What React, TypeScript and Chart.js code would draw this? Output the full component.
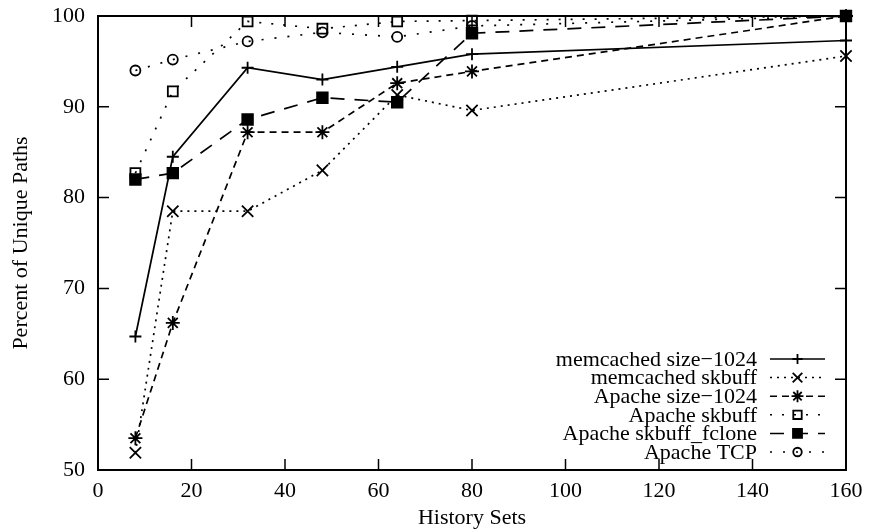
import React, { useEffect, useRef } from "react";
import { Chart, registerables } from "chart.js";

Chart.register(...registerables);

// ---- data ----
const historySets = [8, 16, 32, 48, 64, 80, 160];
const memcachedSize1024 = [64.7, 84.5, 94.3, 93.0, 94.4, 95.8, 97.3];
const memcachedSkbuff = [51.9, 78.5, 78.5, 83.0, 91.3, 89.6, 95.6];
const apacheSize1024 = [53.5, 66.2, 87.2, 87.2, 92.6, 93.9, 100];
const apacheSkbuff = [82.7, 91.7, 99.4, 98.6, 99.4, 99.5, 100];
const apacheSkbuffFclone = [82.0, 82.7, 88.6, 91.0, 90.5, 98.1, 100];
const apacheTcp = [94.0, 95.2, 97.2, 98.2, 97.7, 98.9, 100];

const seriesLabels = [
  "memcached size\u22121024",
  "memcached skbuff",
  "Apache size\u22121024",
  "Apache skbuff",
  "Apache skbuff_fclone",
  "Apache TCP",
];
const xTickValues = [0, 20, 40, 60, 80, 100, 120, 140, 160];
const yTickValues = [50, 60, 70, 80, 90, 100];
const xTitle = "History Sets";
const yTitle = "Percent of Unique Paths";

const FONT = "'Liberation Serif', 'Times New Roman', serif";

type Style = {
  dash: number[];
  point: string;
  radius: number;
  fill: string;
};

const styles: Style[] = [
  { dash: [], point: "cross", radius: 6, fill: "rgba(0,0,0,0)" },
  { dash: [2, 5], point: "crossRot", radius: 8, fill: "rgba(0,0,0,0)" },
  { dash: [7, 5], point: "star", radius: 7, fill: "rgba(0,0,0,0)" },
  { dash: [2, 10], point: "rect", radius: 7, fill: "rgba(0,0,0,0)" },
  { dash: [14, 10], point: "rect", radius: 7.5, fill: "#000" },
  { dash: [2, 11], point: "circle", radius: 5, fill: "rgba(0,0,0,0)" },
];

const seriesValues = [
  memcachedSize1024,
  memcachedSkbuff,
  apacheSize1024,
  apacheSkbuff,
  apacheSkbuffFclone,
  apacheTcp,
];

function drawMarker(ctx: CanvasRenderingContext2D, kind: string, x: number, y: number, r: number, fill: string) {
  ctx.save();
  ctx.setLineDash([]);
  ctx.beginPath();
  if (kind === "cross") {
    ctx.moveTo(x - r, y); ctx.lineTo(x + r, y);
    ctx.moveTo(x, y - r); ctx.lineTo(x, y + r);
    ctx.stroke();
  } else if (kind === "crossRot") {
    const o = r * Math.SQRT1_2;
    ctx.moveTo(x - o, y - o); ctx.lineTo(x + o, y + o);
    ctx.moveTo(x - o, y + o); ctx.lineTo(x + o, y - o);
    ctx.stroke();
  } else if (kind === "star") {
    const o = r * Math.SQRT1_2;
    ctx.moveTo(x - r, y); ctx.lineTo(x + r, y);
    ctx.moveTo(x, y - r); ctx.lineTo(x, y + r);
    ctx.moveTo(x - o, y - o); ctx.lineTo(x + o, y + o);
    ctx.moveTo(x - o, y + o); ctx.lineTo(x + o, y - o);
    ctx.stroke();
  } else if (kind === "rect") {
    const s = r * Math.SQRT1_2;
    ctx.rect(x - s, y - s, 2 * s, 2 * s);
    ctx.fillStyle = fill;
    ctx.fill();
    ctx.stroke();
  } else if (kind === "circle") {
    ctx.arc(x, y, r, 0, Math.PI * 2);
    ctx.fillStyle = fill;
    ctx.fill();
    ctx.stroke();
  }
  ctx.restore();
}

const framePlugin = {
  id: "gnuplotFrame",
  beforeDatasetsDraw(chart: any) {
    const { ctx, chartArea: a, scales } = chart;
    ctx.save();
    ctx.strokeStyle = "#000";
    ctx.lineWidth = 1.5;
    ctx.setLineDash([]);
    const tl = 11;
    ctx.beginPath();
    for (const v of xTickValues) {
      const px = scales.x.getPixelForValue(v);
      ctx.moveTo(px, a.bottom); ctx.lineTo(px, a.bottom - tl);
      ctx.moveTo(px, a.top); ctx.lineTo(px, a.top + tl);
    }
    for (const v of yTickValues) {
      const py = scales.y.getPixelForValue(v);
      ctx.moveTo(a.left, py); ctx.lineTo(a.left + tl, py);
      ctx.moveTo(a.right, py); ctx.lineTo(a.right - tl, py);
    }
    ctx.stroke();
    ctx.lineWidth = 2;
    ctx.strokeRect(a.left, a.top, a.right - a.left, a.bottom - a.top);
    ctx.restore();
  },
};

const legendPlugin = {
  id: "gnuplotLegend",
  afterDraw(chart: any) {
    const { ctx, chartArea: a } = chart;
    ctx.save();
    ctx.font = `22px ${FONT}`;
    ctx.fillStyle = "#000";
    ctx.strokeStyle = "#000";
    ctx.textAlign = "right";
    ctx.textBaseline = "middle";
    const textRight = a.right - 89;
    const lineL = a.right - 76;
    const lineR = a.right - 21;
    const mid = (lineL + lineR) / 2;
    const top = a.bottom - 111;
    const step = 18.6;
    chart.data.datasets.forEach((ds: any, i: number) => {
      const y = top + i * step;
      const st = styles[i];
      ctx.fillText(ds.label, textRight, y + 1);
      ctx.lineWidth = 1.5;
      ctx.setLineDash(st.dash);
      ctx.beginPath();
      ctx.moveTo(lineL, y);
      ctx.lineTo(lineR, y);
      ctx.stroke();
      ctx.lineWidth = 1.8;
      drawMarker(ctx, st.point, mid, y, st.radius * 0.85, st.fill);
    });
    ctx.restore();
  },
};

export default function App() {
  const ref = useRef<HTMLCanvasElement | null>(null);

  useEffect(() => {
    document.body.style.margin = "0";
    const canvas = ref.current;
    if (!canvas) return;

    const datasets = seriesValues.map((vals, i) => ({
      label: seriesLabels[i],
      data: historySets.map((x, j) => ({ x, y: vals[j] })),
      borderColor: "#000",
      borderWidth: 1.7,
      borderDash: styles[i].dash,
      pointStyle: styles[i].point,
      pointRadius: styles[i].radius,
      pointBorderWidth: 1.8,
      pointBorderColor: "#000",
      pointBackgroundColor: styles[i].fill,
      fill: false,
      tension: 0,
      clip: false as any,
    }));

    const chart = new Chart(canvas, {
      type: "line",
      data: { datasets },
      options: {
        responsive: false,
        animation: false,
        layout: { padding: { top: 16, right: 24, left: 0, bottom: 0 } },
        plugins: {
          legend: { display: false },
          tooltip: { enabled: false },
        },
        scales: {
          x: {
            type: "linear",
            min: 0,
            max: 160,
            grid: { display: false, drawTicks: false },
            border: { display: false },
            afterBuildTicks: (s: any) => {
              s.ticks = xTickValues.map((v) => ({ value: v }));
            },
            ticks: {
              color: "#000",
              font: { family: FONT, size: 22 },
              padding: 8,
              maxRotation: 0,
            },
            title: {
              display: true,
              text: xTitle,
              color: "#000",
              font: { family: FONT, size: 22 },
              padding: { top: 0, bottom: 0 },
            },
            afterFit: (s: any) => {
              s.height = 61;
              s.paddingLeft = 0;
              s.paddingRight = 0;
            },
          },
          y: {
            type: "linear",
            min: 50,
            max: 100,
            grid: { display: false, drawTicks: false },
            border: { display: false },
            afterBuildTicks: (s: any) => {
              s.ticks = yTickValues.map((v) => ({ value: v }));
            },
            ticks: {
              color: "#000",
              font: { family: FONT, size: 22 },
              padding: 13,
            },
            title: {
              display: true,
              text: yTitle,
              color: "#000",
              font: { family: FONT, size: 22 },
              padding: { top: 8, bottom: 0 },
            },
            afterFit: (s: any) => {
              s.width = 98;
              s.paddingTop = 0;
              s.paddingBottom = 0;
            },
          },
        },
      },
      plugins: [framePlugin, legendPlugin],
    } as any);

    return () => chart.destroy();
  }, []);

  return (
    <div style={{ width: 870, height: 531, background: "#fff" }}>
      <canvas ref={ref} width={870} height={531} style={{ display: "block" }} />
    </div>
  );
}
